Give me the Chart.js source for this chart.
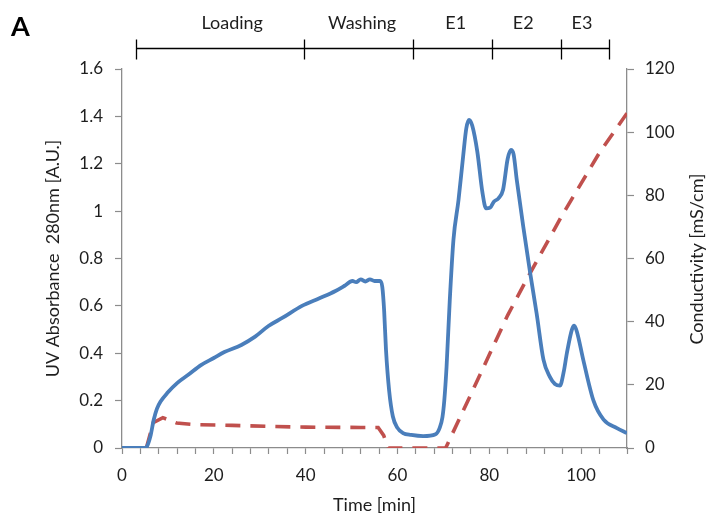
<!DOCTYPE html>
<html>
<head>
<meta charset="utf-8">
<script src="https://cdn.jsdelivr.net/npm/chart.js@4.4.1/dist/chart.umd.min.js"></script>
<style>
  html, body { margin: 0; padding: 0; background: #fff; }
  #wrap { width: 707px; height: 521px; position: relative; }
</style>
</head>
<body>
<div id="wrap"><canvas id="chart"></canvas></div>
<script>
// UV trace (time in min, absorbance in A.U.)
const timeUV = [0, 5, 5.4, 6.2, 6.9, 7.6, 8.4, 10, 12, 14.5, 17.2, 20, 22.3, 26, 29, 31.9, 35, 39.2, 43, 46.5, 48.5,
  50.2, 51, 52, 53, 54, 55, 56.2, 56.7, 57.1, 57.5, 58.2, 59, 60, 61.2, 63, 65.6, 68.3, 69.2, 69.8, 70.2, 70.7, 71.4,
  72.2, 73.3, 74.3, 75, 75.6, 76.3, 77.4, 78.5, 79.3, 80.2, 81, 82, 83, 84, 84.7, 85.3, 86, 87.4, 88.9, 90.3, 91.8,
  93.2, 94.3, 95.4, 96.2, 96.9, 98, 98.5, 99.1, 100.5, 102.7, 104.9, 107.8, 110];
const uvAbs = [0, 0, 0.005, 0.05, 0.118, 0.165, 0.196, 0.235, 0.274, 0.31, 0.35, 0.38, 0.405, 0.435, 0.47, 0.515, 0.55, 0.6, 0.632, 0.663, 0.685,
  0.705, 0.7, 0.712, 0.703, 0.712, 0.705, 0.705, 0.68, 0.58, 0.415, 0.24, 0.133, 0.085, 0.063, 0.055, 0.05, 0.058, 0.085, 0.13, 0.2, 0.344, 0.625,
  0.88, 1.047, 1.23, 1.35, 1.385, 1.36, 1.25, 1.08, 1.012, 1.015, 1.04, 1.054, 1.09, 1.22, 1.258, 1.24, 1.13, 0.935, 0.74, 0.57, 0.373,
  0.3, 0.27, 0.263, 0.32, 0.4, 0.5, 0.516, 0.49, 0.37, 0.2, 0.12, 0.084, 0.063];

// conductivity trace (time in min, mS/cm)
const timeCond = [0, 5.3, 6.8, 8.9, 11.9, 16, 24, 33, 40, 52, 55.8, 57, 58, 70.5, 76, 84, 88, 96, 104, 110];
const conductivity = [0, 0, 8, 9.6, 7.9, 7.4, 7.15, 6.8, 6.6, 6.5, 6.5, 4, 0, 0, 17, 42, 53, 74, 93.5, 106];

// phases marked above the chart (bounds and label centres in min)
const phaseNames = ['Loading', 'Washing', 'E1', 'E2', 'E3'];
const phaseBounds = [3.1, 39.7, 63.3, 80.5, 95.6, 106.1];
const phaseLabelAt = [24, 52.3, 72.7, 87.4, 100.2];

const axisGray = '#8c8c8c';
const textColor = '#1e1e1e';
const fontName = 'Lato';

// bracket, panel letter and right axis title
const extras = {
    id: 'extras',
    afterDraw(chart) {
        const ctx = chart.ctx;
        const xs = chart.scales.x;
        const yLine = 48.5;
        ctx.save();
        ctx.strokeStyle = '#000';
        ctx.lineWidth = 1.3;
        ctx.beginPath();
        ctx.moveTo(xs.getPixelForValue(phaseBounds[0]), yLine);
        ctx.lineTo(xs.getPixelForValue(phaseBounds[phaseBounds.length - 1]), yLine);
        phaseBounds.forEach(b => {
            const px = Math.round(xs.getPixelForValue(b)) + 0.5;
            ctx.moveTo(px, yLine - 9);
            ctx.lineTo(px, yLine + 11);
        });
        ctx.stroke();

        ctx.fillStyle = textColor;
        ctx.font = '18px ' + fontName;
        ctx.textAlign = 'center';
        ctx.textBaseline = 'alphabetic';
        phaseNames.forEach((name, i) => {
            ctx.fillText(name, xs.getPixelForValue(phaseLabelAt[i]), 29);
        });

        ctx.font = 'bold 27px ' + fontName;
        ctx.textAlign = 'left';
        ctx.fillStyle = '#000';
        ctx.fillText('A', 11, 36);

        // Excel style: reads bottom to top
        ctx.font = '18px ' + fontName;
        ctx.fillStyle = textColor;
        ctx.translate(697, 259);
        ctx.rotate(-Math.PI / 2);
        ctx.textAlign = 'center';
        ctx.textBaseline = 'middle';
        ctx.fillText('Conductivity [mS/cm]', 0, 0);
        ctx.restore();
    }
};

const ctx = document.getElementById('chart').getContext('2d');
new Chart(ctx, {
    type: 'line',
    data: {
        datasets: [
            {
                label: 'UV',
                data: timeUV.map((t, i) => ({ x: t, y: uvAbs[i] })),
                yAxisID: 'y',
                borderColor: '#4a7ebb',
                borderWidth: 3.8,
                pointRadius: 0,
                cubicInterpolationMode: 'monotone',
                fill: false
            },
            {
                label: 'Conductivity',
                data: timeCond.map((t, i) => ({ x: t, y: conductivity[i] })),
                yAxisID: 'y2',
                borderColor: '#c0504d',
                borderWidth: 3.6,
                borderDash: [15, 10],
                borderCapStyle: 'butt',
                pointRadius: 0,
                tension: 0,
                fill: false
            }
        ]
    },
    options: {
        responsive: true,
        maintainAspectRatio: false,
        animation: false,
        layout: { padding: { top: 69, left: 0, right: 0, bottom: 0 } },
        plugins: {
            legend: { display: false },
            tooltip: { enabled: false }
        },
        scales: {
            x: {
                type: 'linear',
                min: 0,
                max: 110,
                afterFit: s => { s.height = 73; },
                ticks: {
                    stepSize: 4,
                    autoSkip: false,
                    maxRotation: 0,
                    padding: 11,
                    color: textColor,
                    font: { family: fontName, size: 17 },
                    callback: v => (v % 20 === 0 ? v : '')
                },
                grid: { drawOnChartArea: false, tickLength: 6, tickColor: axisGray, tickWidth: 1.2 },
                border: { color: axisGray, width: 1.3 },
                title: {
                    display: true,
                    text: 'Time [min]',
                    color: textColor,
                    font: { family: fontName, size: 18 },
                    padding: { top: 0, bottom: 5 }
                }
            },
            y: {
                position: 'left',
                min: 0,
                max: 1.6,
                afterFit: s => { s.width = 122; },
                ticks: {
                    stepSize: 0.2,
                    padding: 12,
                    color: textColor,
                    font: { family: fontName, size: 17 },
                    callback: v => String(+v.toFixed(1))
                },
                grid: { drawOnChartArea: false, tickLength: 7, tickColor: axisGray, tickWidth: 1.2 },
                border: { color: axisGray, width: 1.3 },
                title: {
                    display: true,
                    text: 'UV Absorbance  280nm [A.U.]',
                    color: textColor,
                    font: { family: fontName, size: 18 },
                    padding: { top: 42, bottom: 0 }
                }
            },
            y2: {
                position: 'right',
                min: 0,
                max: 120,
                afterFit: s => { s.width = 80; },
                ticks: {
                    stepSize: 20,
                    padding: 11,
                    color: textColor,
                    font: { family: fontName, size: 17 }
                },
                grid: { drawOnChartArea: false, tickLength: 7, tickColor: axisGray, tickWidth: 1.2 },
                border: { color: axisGray, width: 1.3 }
            }
        }
    },
    plugins: [extras]
});
</script>
</body>
</html>
